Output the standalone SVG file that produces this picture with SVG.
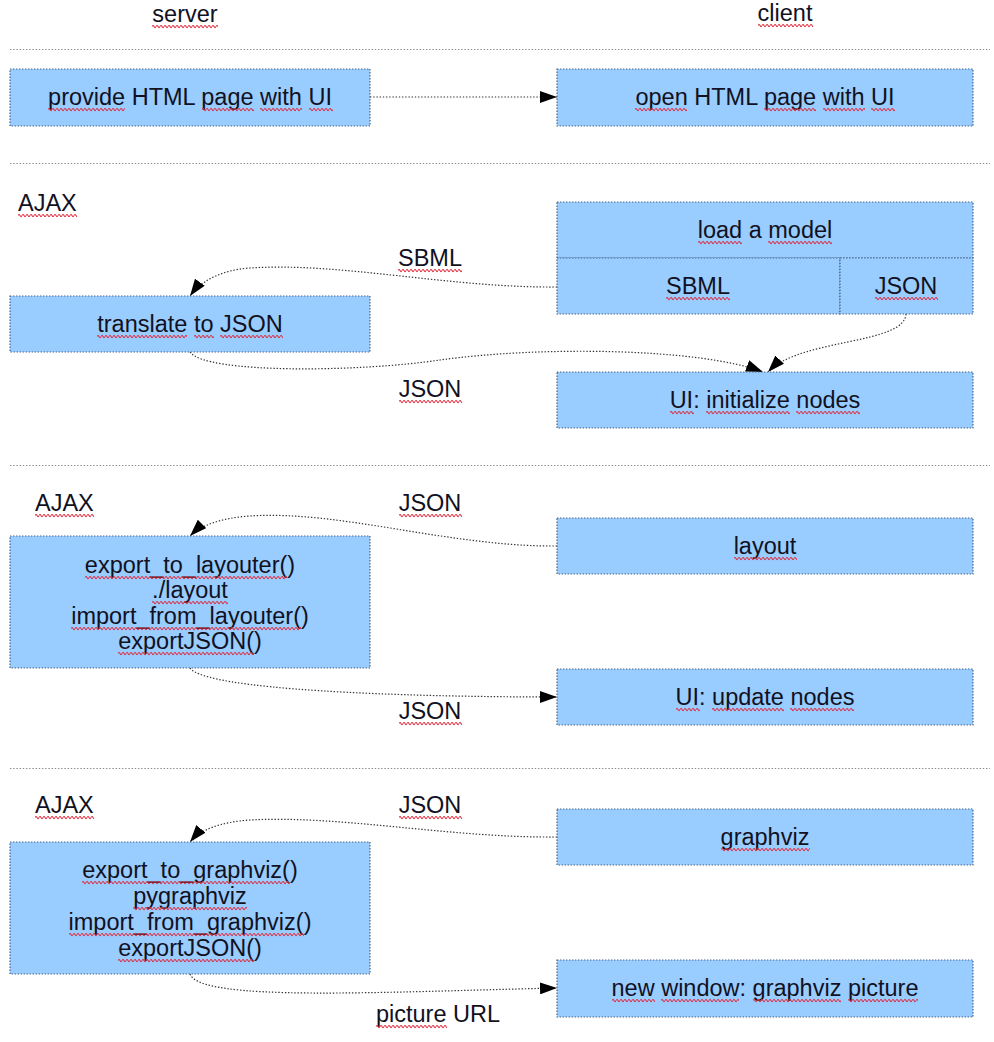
<svg xmlns="http://www.w3.org/2000/svg" width="994" height="1042" viewBox="0 0 994 1042">
<style>
  .bg { fill: #ffffff; }
  .box { fill: #99ccff; stroke: #4a6585; stroke-width: 1.2; stroke-dasharray: 1.4 1.6; }
  .sep { stroke: #8a8a8a; stroke-width: 1.2; stroke-dasharray: 1.4 1.8; fill: none; }
  .conn { fill: none; stroke: #333333; stroke-width: 1.2; stroke-dasharray: 1.4 1.8; }
  text { font-family: "Liberation Sans", Arial, sans-serif; font-size: 23.5px; fill: #111122; }
  .c { text-anchor: middle; }
  .sq { fill: url(#wave); }
</style>
<defs>
  <marker id="arr" markerWidth="18" markerHeight="12" refX="17" refY="6" orient="auto" markerUnits="userSpaceOnUse">
    <path d="M0,0 L17,6 L0,12 z" fill="#000000"/>
  </marker>
  <pattern id="wave" width="4" height="5" patternUnits="userSpaceOnUse">
    <path d="M0,2.5 Q1,0.3 2,2.5 T4,2.5" fill="none" stroke="#e0303f" stroke-width="1.05"/>
  </pattern>
</defs>
<rect class="bg" x="0" y="0" width="994" height="1042"/>

<g id="headers">
  <text class="c" x="185" y="22">server</text>
  <text class="c" x="785" y="21">client</text>
</g>

<g id="separators">
  <line class="sep" x1="10" y1="49.5" x2="990" y2="49.5"/>
  <line class="sep" x1="10" y1="163.5" x2="990" y2="163.5"/>
  <line class="sep" x1="10" y1="465.5" x2="990" y2="465.5"/>
  <line class="sep" x1="10" y1="768.5" x2="990" y2="768.5"/>
</g>

<g id="section-labels">
  <text x="18" y="211">AJAX</text>
  <text x="35" y="511">AJAX</text>
  <text x="35" y="813">AJAX</text>
</g>

<g id="connectors">
  <path class="conn" d="M370,97 L557,97" marker-end="url(#arr)"/>
  <path class="conn" d="M557,287 C450,288 340,262 250,268 C220,270 200,282 190,296" marker-end="url(#arr)"/>
  <path class="conn" d="M190,352 C205,374 360,372 440,360 C540,346 700,348 763,372" marker-end="url(#arr)"/>
  <path class="conn" d="M906,314 C904,345 800,338 768,372" marker-end="url(#arr)"/>
  <path class="conn" d="M557,546 C450,547 340,510 250,516 C220,518 200,526 190,536" marker-end="url(#arr)"/>
  <path class="conn" d="M190,668 C205,690 400,697 557,697" marker-end="url(#arr)"/>
  <path class="conn" d="M557,837 C450,838 340,815 250,820 C220,822 200,830 190,842" marker-end="url(#arr)"/>
  <path class="conn" d="M190,974 C200,1002 380,992 557,988" marker-end="url(#arr)"/>
  <text class="c" x="430" y="266">SBML</text>
  <text class="c" x="430" y="397">JSON</text>
  <text class="c" x="430" y="511">JSON</text>
  <text class="c" x="430" y="719">JSON</text>
  <text class="c" x="430" y="813">JSON</text>
  <text class="c" x="438" y="1022">picture URL</text>
</g>

<g id="provide-html">
  <rect class="box" x="10" y="69" width="360" height="57"/>
  <text class="c" x="190" y="105">provide HTML page with UI</text>
</g>
<g id="open-html">
  <rect class="box" x="557" y="69" width="416" height="57"/>
  <text class="c" x="765" y="105">open HTML page with UI</text>
</g>

<g id="load-model">
  <rect class="box" x="557" y="202" width="416" height="56"/>
  <text class="c" x="765" y="238">load a model</text>
</g>
<g id="load-sbml">
  <rect class="box" x="557" y="258" width="283" height="56"/>
  <text class="c" x="698" y="294">SBML</text>
</g>
<g id="load-json">
  <rect class="box" x="840" y="258" width="133" height="56"/>
  <text class="c" x="906" y="294">JSON</text>
</g>
<g id="translate">
  <rect class="box" x="10" y="296" width="360" height="56"/>
  <text class="c" x="190" y="332">translate to JSON</text>
</g>
<g id="init-nodes">
  <rect class="box" x="557" y="372" width="416" height="56"/>
  <text class="c" x="765" y="408">UI: initialize nodes</text>
</g>

<g id="layout">
  <rect class="box" x="557" y="518" width="416" height="56"/>
  <text class="c" x="765" y="554">layout</text>
</g>
<g id="layouter">
  <rect class="box" x="10" y="536" width="360" height="132"/>
  <text class="c" x="190" y="573">export_to_layouter()</text>
  <text class="c" x="190" y="598">./layout</text>
  <text class="c" x="190" y="624">import_from_layouter()</text>
  <text class="c" x="190" y="649">exportJSON()</text>
</g>
<g id="update-nodes">
  <rect class="box" x="557" y="669" width="416" height="56"/>
  <text class="c" x="765" y="705">UI: update nodes</text>
</g>

<g id="graphviz">
  <rect class="box" x="557" y="809" width="416" height="56"/>
  <text class="c" x="765" y="845">graphviz</text>
</g>
<g id="graphviz-server">
  <rect class="box" x="10" y="842" width="360" height="132"/>
  <text class="c" x="190" y="878">export_to_graphviz()</text>
  <text class="c" x="190" y="904">pygraphviz</text>
  <text class="c" x="190" y="930">import_from_graphviz()</text>
  <text class="c" x="190" y="956">exportJSON()</text>
</g>
<g id="graphviz-picture">
  <rect class="box" x="557" y="960" width="416" height="57"/>
  <text class="c" x="765" y="996">new window: graphviz picture</text>
</g>

<g id="spellcheck" class="sq">
  <rect transform="translate(152,24)" width="66" height="5"/>
  <rect transform="translate(758,23)" width="55" height="5"/>
  <rect transform="translate(18,213)" width="59" height="5"/>
  <rect transform="translate(35,513)" width="59" height="5"/>
  <rect transform="translate(35,815)" width="59" height="5"/>
  <rect transform="translate(398,268)" width="64" height="5"/>
  <rect transform="translate(399,399)" width="63" height="5"/>
  <rect transform="translate(399,513)" width="63" height="5"/>
  <rect transform="translate(399,721)" width="63" height="5"/>
  <rect transform="translate(399,815)" width="63" height="5"/>
  <rect transform="translate(376,1024)" width="71" height="5"/>
  <rect transform="translate(48,107)" width="77" height="5"/>
  <rect transform="translate(202,107)" width="52" height="5"/>
  <rect transform="translate(260,107)" width="42" height="5"/>
  <rect transform="translate(309,107)" width="24" height="5"/>
  <rect transform="translate(635,107)" width="52" height="5"/>
  <rect transform="translate(764,107)" width="52" height="5"/>
  <rect transform="translate(823,107)" width="42" height="5"/>
  <rect transform="translate(871,107)" width="24" height="5"/>
  <rect transform="translate(698,240)" width="44" height="5"/>
  <rect transform="translate(768,240)" width="64" height="5"/>
  <rect transform="translate(666,296)" width="64" height="5"/>
  <rect transform="translate(875,296)" width="63" height="5"/>
  <rect transform="translate(97,334)" width="90" height="5"/>
  <rect transform="translate(194,334)" width="20" height="5"/>
  <rect transform="translate(220,334)" width="63" height="5"/>
  <rect transform="translate(670,410)" width="24" height="5"/>
  <rect transform="translate(706,410)" width="84" height="5"/>
  <rect transform="translate(796,410)" width="64" height="5"/>
  <rect transform="translate(734,556)" width="63" height="5"/>
  <rect transform="translate(85,575)" width="202" height="5"/>
  <rect transform="translate(152,600)" width="76" height="5"/>
  <rect transform="translate(71,626)" width="230" height="5"/>
  <rect transform="translate(118,651)" width="136" height="5"/>
  <rect transform="translate(676,707)" width="24" height="5"/>
  <rect transform="translate(712,707)" width="72" height="5"/>
  <rect transform="translate(790,707)" width="64" height="5"/>
  <rect transform="translate(721,847)" width="89" height="5"/>
  <rect transform="translate(82,880)" width="208" height="5"/>
  <rect transform="translate(133,906)" width="114" height="5"/>
  <rect transform="translate(69,932)" width="235" height="5"/>
  <rect transform="translate(118,958)" width="136" height="5"/>
  <rect transform="translate(612,998)" width="43" height="5"/>
  <rect transform="translate(661,998)" width="78" height="5"/>
  <rect transform="translate(753,998)" width="88" height="5"/>
  <rect transform="translate(848,998)" width="70" height="5"/>
</g>
</svg>
